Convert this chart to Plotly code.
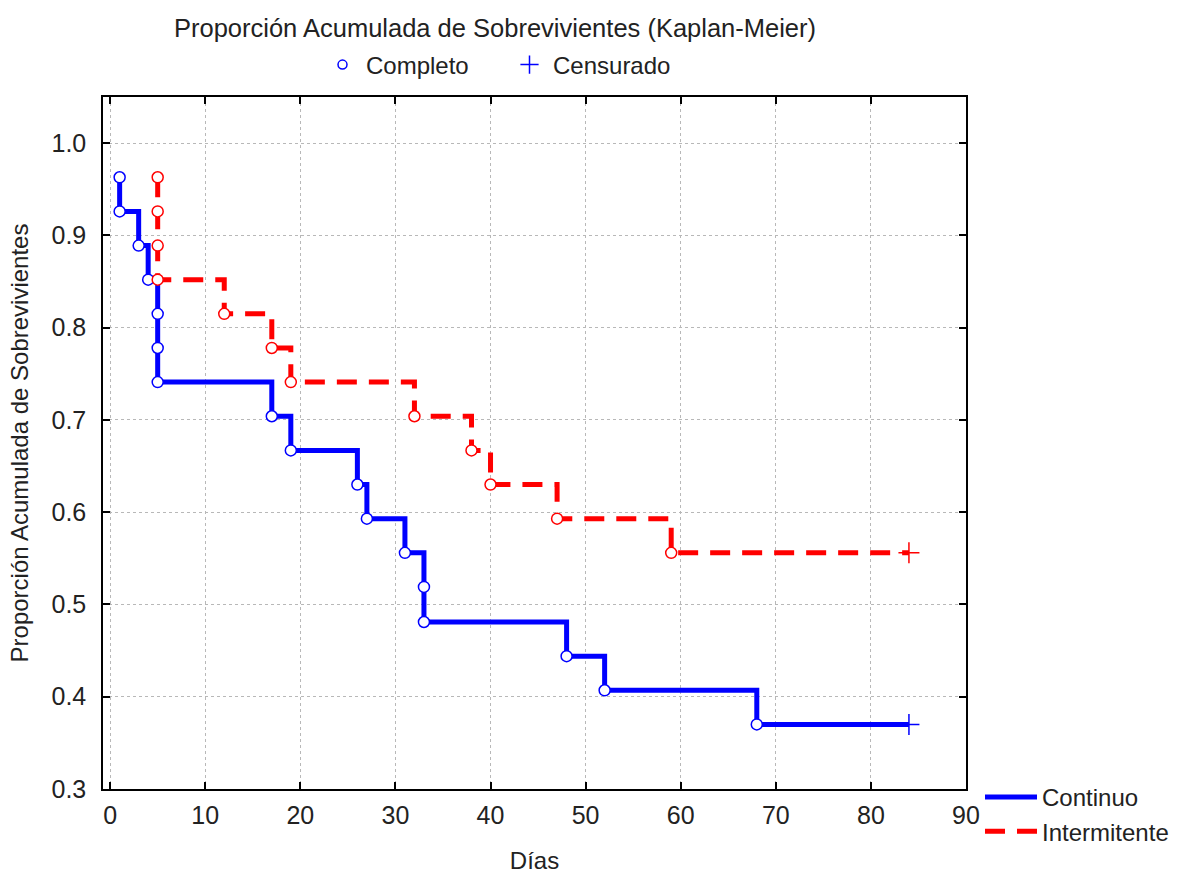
import plotly.graph_objects as go

# Kaplan-Meier estimates, 27 subjects per group
cont_dias = [1, 1, 3, 4, 5, 5, 5, 17, 19, 26, 27, 31, 33, 33, 48, 52, 68]
cont_prop = [0.963, 0.926, 0.889, 0.852, 0.815, 0.778, 0.741, 0.704, 0.667,
             0.630, 0.593, 0.556, 0.519, 0.481, 0.444, 0.407, 0.370]
cont_cens_dias = [84]
cont_cens_prop = [0.370]

int_dias = [5, 5, 5, 5, 12, 17, 19, 32, 38, 40, 47, 59]
int_prop = [0.963, 0.926, 0.889, 0.852, 0.815, 0.778, 0.741, 0.704, 0.667,
            0.630, 0.593, 0.556]
int_cens_dias = [84]
int_cens_prop = [0.556]

x_ticks = [0, 10, 20, 30, 40, 50, 60, 70, 80, 90]
y_ticks = [0.3, 0.4, 0.5, 0.6, 0.7, 0.8, 0.9, 1.0]

AZUL = "#0000ff"
ROJO = "#ff0000"
FONT = "Liberation Sans, Arial, sans-serif"

fig = go.Figure()

# step curves
fig.add_trace(go.Scatter(
    x=cont_dias + cont_cens_dias, y=cont_prop + cont_cens_prop,
    mode="lines", line=dict(color=AZUL, width=5, shape="hv"),
    name="Continuo", legend="legend"))
fig.add_trace(go.Scatter(
    x=int_dias + int_cens_dias, y=int_prop + int_cens_prop,
    mode="lines", line=dict(color=ROJO, width=5, shape="hv", dash="20px,12px"),
    name="Intermitente", legend="legend"))

# completed events
fig.add_trace(go.Scatter(
    x=cont_dias, y=cont_prop, mode="markers", showlegend=False,
    marker=dict(symbol="circle", size=11, color="white",
                line=dict(color=AZUL, width=1.5))))
fig.add_trace(go.Scatter(
    x=int_dias, y=int_prop, mode="markers", showlegend=False,
    marker=dict(symbol="circle", size=11, color="white",
                line=dict(color=ROJO, width=1.5))))

# censored observations
fig.add_trace(go.Scatter(
    x=cont_cens_dias, y=cont_cens_prop, mode="markers", showlegend=False,
    marker=dict(symbol="cross-thin", size=15, line=dict(color=AZUL, width=1.5))))
fig.add_trace(go.Scatter(
    x=int_cens_dias, y=int_cens_prop, mode="markers", showlegend=False,
    marker=dict(symbol="cross-thin", size=15, line=dict(color=ROJO, width=1.5))))

# symbol key
fig.add_trace(go.Scatter(
    x=[None], y=[None], mode="markers", name="Completo", legend="legend2",
    marker=dict(symbol="circle", size=9, color="white",
                line=dict(color=AZUL, width=1.5))))
fig.add_trace(go.Scatter(
    x=[None], y=[None], mode="markers", name="Censurado", legend="legend2",
    marker=dict(symbol="cross-thin", size=13, line=dict(color=AZUL, width=1.5))))

axis_common = dict(
    showline=True, linecolor="black", linewidth=1.5, mirror="ticks",
    ticks="inside", ticklen=7, tickwidth=1.5, tickcolor="black",
    showgrid=True, gridcolor="#b8b8b8", gridwidth=1, griddash="dot",
    zeroline=False, tickfont=dict(family=FONT, size=25, color="#222"),
)

fig.update_layout(
    width=1181, height=874,
    margin=dict(l=103, r=215, t=97, b=85, autoexpand=False),
    paper_bgcolor="white", plot_bgcolor="white",
    font=dict(family=FONT, size=24, color="#222"),
    title=dict(text="Proporción Acumulada de Sobrevivientes (Kaplan-Meier)",
               x=495 / 1181, xanchor="center", y=1 - 28 / 874, yanchor="middle",
               font=dict(family=FONT, size=25.5, color="#222")),
    xaxis=dict(axis_common, range=[-0.75, 90], tickvals=x_ticks,
               ticklabelstandoff=3, automargin=False,
               title=dict(text="Días", standoff=24,
                          font=dict(family=FONT, size=24, color="#222"))),
    yaxis=dict(axis_common, range=[0.3, 1.05], tickvals=y_ticks,
               tickformat=".1f", ticklabelstandoff=10, automargin=False,
               title=dict(text="Proporción Acumulada de Sobrevivientes", standoff=16,
                          font=dict(family=FONT, size=24, color="#222"))),
    legend=dict(xref="container", yref="container",
                x=980 / 1181, y=1 - 775 / 874, xanchor="left", yanchor="top",
                orientation="v", itemwidth=52, bgcolor="rgba(0,0,0,0)",
                tracegroupgap=0,
                font=dict(family=FONT, size=24, color="#222")),
    legend2=dict(xref="container", yref="container",
                 x=319 / 1181, y=1 - 65 / 874, xanchor="left", yanchor="middle",
                 orientation="h", itemwidth=37, entrywidth=135,
                 bgcolor="rgba(0,0,0,0)",
                 font=dict(family=FONT, size=24, color="#222")),
)

fig.write_html("out.html")
